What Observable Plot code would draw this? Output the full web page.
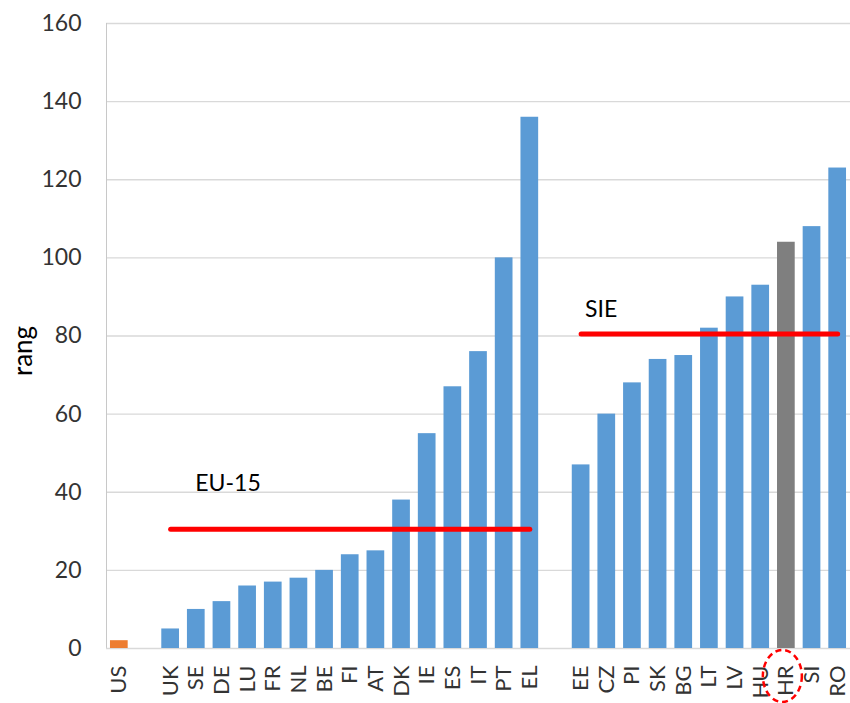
<!DOCTYPE html>
<html><head><meta charset="utf-8">
<script src="https://cdn.jsdelivr.net/npm/d3@7"></script>
<script src="https://cdn.jsdelivr.net/npm/@observablehq/plot@0.6"></script>
<style>body{margin:0;background:#fff}</style>
</head><body><div id="chart"></div>
<script>
const countries = ["US","UK","SE","DE","LU","FR","NL","BE","FI","AT","DK","IE","ES","IT","PT","EL","EE","CZ","PI","SK","BG","LT","LV","HU","HR","SI","RO"];
const values = [2,5,10,12,16,17,18,20,24,25,38,55,67,76,100,136,47,60,68,74,75,82,90,93,104,108,123];
const groups = ["US","EU-15","EU-15","EU-15","EU-15","EU-15","EU-15","EU-15","EU-15","EU-15","EU-15","EU-15","EU-15","EU-15","EU-15","EU-15","SIE","SIE","SIE","SIE","SIE","SIE","SIE","SIE","HR","SIE","SIE"];
const groupColors = {"US":"#ED7D31","EU-15":"#5B9BD5","SIE":"#5B9BD5","HR":"#7F7F7F"};
const xDomain = ["US"," ",...countries.slice(1,16),"  ",...countries.slice(16)];
const avgNames = ["EU-15","SIE"];
const avgValues = [30.5, 80.5];
const avgFrom = ["UK","EE"];
const avgTo = ["EL","RO"];
const avgLabelAt = ["SE","EE"];
const avgLabelY = [42.2, 86.8];
const yTicks = [0,20,40,60,80,100,120,140,160];
const yLabel = "rang";

const data = countries.map((c,i)=>({c, v: values[i], fill: groupColors[groups[i]]}));
const lineData = avgNames.flatMap((n,i)=>[{g:n, x:avgFrom[i], y:avgValues[i]},{g:n, x:avgTo[i], y:avgValues[i]}]);
const labelData = avgNames.map((n,i)=>({t:n, x:avgLabelAt[i], y:avgLabelY[i]}));

const font = "Lato, 'Open Sans', sans-serif";
const chart = Plot.plot({
  width: 850, height: 703,
  marginTop: 23, marginBottom: 55, marginLeft: 106, marginRight: 0,
  style: {fontFamily: font, color: "#333", background: "#fff"},
  x: {domain: xDomain, paddingInner: 0.31, paddingOuter: 0.155, round: false, axis: null},
  y: {domain: [0,160], axis: null},
  marks: [
    Plot.gridY(yTicks.slice(1), {stroke: "#d9d9d9", strokeOpacity: 1, strokeWidth: 1.3}),
    Plot.frame({anchor: "left", stroke: "#c8c8c8"}),
    Plot.ruleY([0], {stroke: "#d9d9d9", strokeWidth: 1.5}),
    Plot.barY(data, {x: "c", y: "v", fill: "fill"}),
    Plot.line(lineData, {x: "x", y: "y", z: "g", stroke: "#ff0000", strokeWidth: 5, strokeLinecap: "round"}),
    Plot.text(labelData.slice(0,1), {x: "x", y: "y", text: "t", textAnchor: "start", dx: -1, fontSize: 23, fill: "#000"}),
    Plot.text(labelData.slice(1), {x: "x", y: "y", text: "t", textAnchor: "start", dx: 4, fontSize: 23, fill: "#000"}),
    Plot.axisY({ticks: yTicks, tickSize: 0, tickPadding: 25, fontSize: 23, label: null}),
    Plot.axisX({tickRotate: -90, tickSize: 0, tickPadding: 17, fontSize: 22, label: null, tickFormat: d => d.trim() ? d : ""}),
    Plot.text([yLabel], {frameAnchor: "left", textAnchor: "middle", dx: -83, dy: 15, rotate: -90, fontSize: 26, fill: "#000"})
  ]
});
document.getElementById("chart").appendChild(chart);

// dashed highlight ellipse around HR tick label
const xs = chart.scale("x"), ys = chart.scale("y");
d3.select(chart).append("ellipse")
  .attr("cx", xs.apply("HR") + xs.bandwidth/2 - 3.5)
  .attr("cy", ys.apply(0) + 28)
  .attr("rx", 19.5).attr("ry", 26)
  .attr("fill", "none").attr("stroke", "#ff0000")
  .attr("stroke-width", 2.5).attr("stroke-dasharray", "6,4");
</script>
</body></html>
